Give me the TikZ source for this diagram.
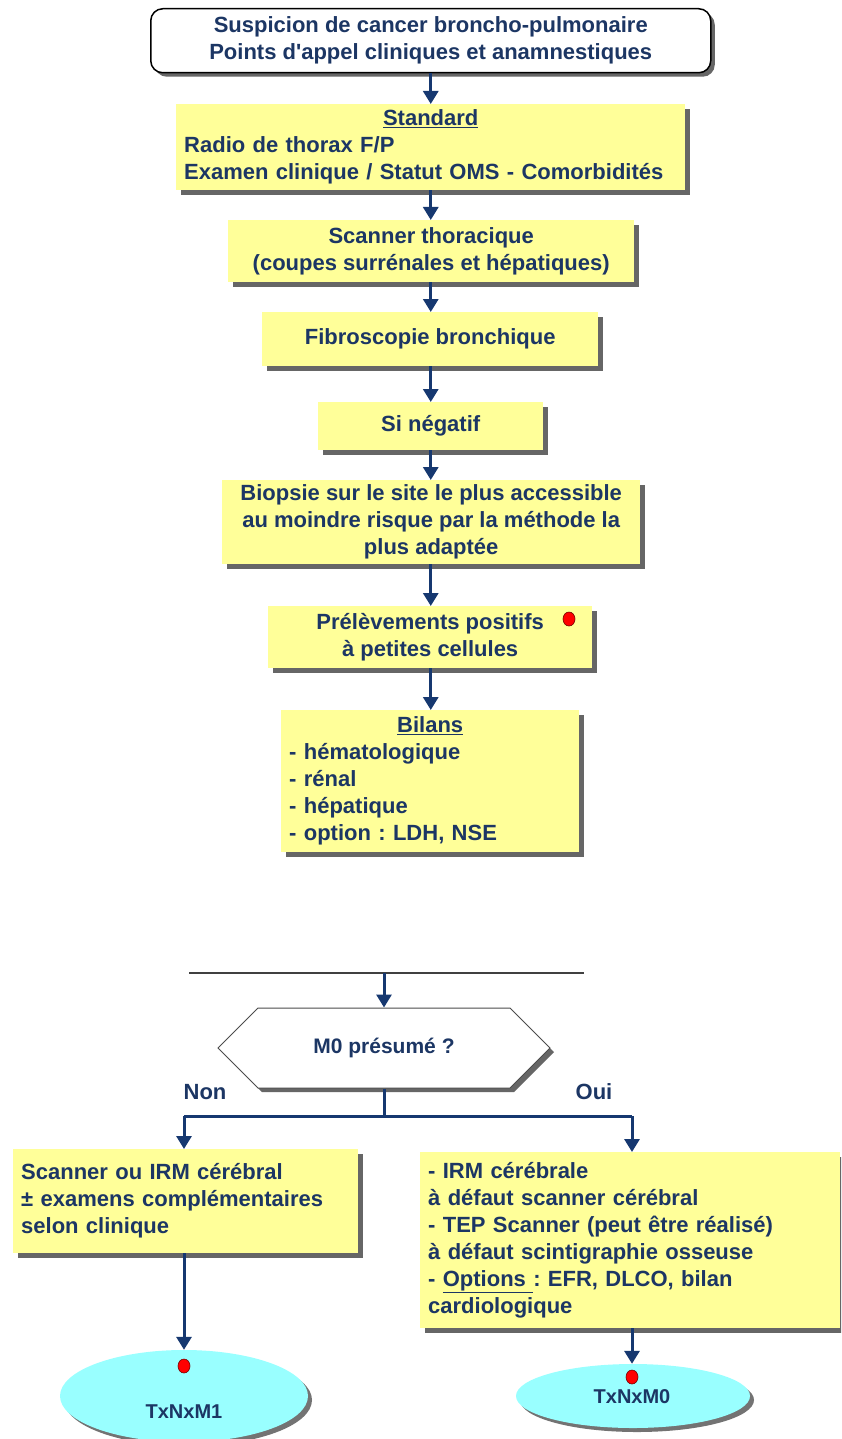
\documentclass[tikz,border=0pt]{standalone}
\usepackage{fontspec}
\setmainfont{Liberation Sans}
\usetikzlibrary{arrows.meta,shadows,shapes.geometric,shapes.symbols}
\definecolor{navy}{RGB}{28,54,100}
\definecolor{arrcol}{RGB}{22,56,112}
\definecolor{yfill}{RGB}{255,255,153}
\definecolor{cfill}{RGB}{153,255,255}
\frenchspacing
\begin{document}
\begin{tikzpicture}[x=1pt,y=-1pt,
  font=\fontsize{22}{27}\selectfont\bfseries\frenchspacing, text=navy,
  shad/.style={drop shadow={shadow xshift=5pt,shadow yshift=-5pt,fill=black!60,opacity=1}},
  yel/.style={fill=yfill, draw=none, shad, inner sep=0pt, anchor=north west},
  topbox/.style={anchor=north west, fill=white, draw=black, line width=1.5pt, rounded corners=12pt,
     align=center, inner sep=0pt, drop shadow={shadow xshift=4pt,shadow yshift=-4pt,fill=black!60,opacity=1}},
  hexa/.style={signal, signal to=east and west, signal pointer angle=90, fill=white, draw=black!70,
     line width=1pt, inner sep=0pt, minimum width=332pt, minimum height=80pt,
     font=\fontsize{21}{26}\selectfont\bfseries,
     drop shadow={shadow xshift=4pt,shadow yshift=-4pt,fill=black!60,opacity=1}},
  ell/.style={ellipse, fill=cfill, draw=none, inner sep=0pt,
     drop shadow={shadow xshift=4pt,shadow yshift=-4pt,fill=black!55,opacity=1}},
  reddot/.style={ellipse, fill=red, draw=red!45!black, line width=0.6pt, minimum width=12pt,
     minimum height=14pt, inner sep=0pt},
  arr/.style={draw=arrcol, line width=3pt, -{Triangle[width=15pt,length=13pt]}},
  conn/.style={draw=arrcol, line width=3pt},
  hline/.style={draw=black!75, line width=1.5pt}
]
\useasboundingbox (0,0) rectangle (841,1439);
\fill[white] (0,0) rectangle (841,1439);
\clip (0,0) rectangle (841,1439);

\node[topbox, minimum width=560pt, minimum height=64pt] (top) at (150,8)
  {Suspicion de cancer broncho-pulmonaire\\Points d\textquotesingle appel cliniques et anamnestiques};

\node[yel, align=left, minimum width=509pt, minimum height=86pt, text width=493pt, inner xsep=8pt] (std) at (176,104)
  {{\centering\underline{Standard}\par}Radio de thorax F/P\\Examen clinique / Statut OMS - Comorbidités};

\node[yel, align=center, minimum width=406pt, minimum height=62pt] (scan) at (228,220)
  {Scanner thoracique\\(coupes surrénales et hépatiques)};

\node[yel, align=center, minimum width=336pt, minimum height=54pt] (fib) at (262,312)
  {Fibroscopie bronchique};

\node[yel, align=center, minimum width=225pt, minimum height=48pt] (neg) at (318,402)
  {Si négatif};

\node[yel, align=center, minimum width=418pt, minimum height=84pt] (bio) at (222,480)
  {Biopsie sur le site le plus accessible\\au moindre risque par la méthode la\\plus adaptée};

\node[yel, align=center, minimum width=324pt, minimum height=62pt] (prel) at (268,606)
  {Prélèvements positifs\\à petites cellules};
\node[reddot] (dot1) at (569,619) {};

\node[yel, align=left, minimum width=298pt, minimum height=142pt, text width=282pt, inner xsep=8pt] (bil) at (281,710)
  {{\centering\underline{Bilans}\par}- hématologique\\- rénal\\- hépatique\\- option : LDH, NSE};

\draw[arr] (top.south) -- (top.south |- std.north);
\draw[arr] (std.south -| top.south) -- (top.south |- scan.north);
\draw[arr] (scan.south -| top.south) -- (top.south |- fib.north);
\draw[arr] (fib.south -| top.south) -- (top.south |- neg.north);
\draw[arr] (neg.south -| top.south) -- (top.south |- bio.north);
\draw[arr] (bio.south -| top.south) -- (top.south |- prel.north);
\draw[arr] (prel.south -| top.south) -- (top.south |- bil.north);

\coordinate (hl) at (189,973);
\coordinate (hr) at (584,973);
\draw[hline] (hl) -- (hr);

\node[hexa] (hex) at (384,1048) {M0 présumé ?};
\draw[arr] (hex.north |- hl) -- (hex.north);

\coordinate (split) at (384,1116);
\draw[conn] (hex.south) -- (split);

\node (non) at (205,1092) {Non};
\node (oui) at (594,1092) {Oui};

\node[yel, align=left, minimum width=345pt, minimum height=104pt, text width=329pt, inner xsep=8pt] (lb) at (13,1149)
  {Scanner ou IRM cérébral\\± examens complémentaires\\selon clinique};

\node[yel, align=left, minimum width=420pt, minimum height=176pt, text width=404pt, inner xsep=8pt] (rb) at (420,1152)
  {- IRM cérébrale\\à défaut scanner cérébral\\- TEP Scanner (peut être réalisé)\\à défaut scintigraphie osseuse\\- \underline{Options }: EFR, DLCO, bilan\\cardiologique};

\coordinate (lsplit) at (184,1116);
\coordinate (rsplit) at (632,1116);
\draw[conn] (lsplit) -- (rsplit);
\draw[arr] (lsplit) -- (lsplit |- lb.north);
\draw[arr] (rsplit) -- (rsplit |- rb.north);

\node[ell, minimum width=248pt, minimum height=92pt] (m1) at (184,1396) {};
\node[reddot] (dot2) at (184,1366) {};
\node[font=\fontsize{20}{24}\selectfont\bfseries] (m1t) at (184,1412) {TxNxM1};

\node[ell, minimum width=234pt, minimum height=64pt] (m0) at (633,1396) {};
\node[reddot] (dot3) at (632,1377) {};
\node[font=\fontsize{20}{24}\selectfont\bfseries] (m0t) at (632,1397) {TxNxM0};

\draw[arr] (lsplit |- lb.south) -- (lsplit |- m1.north);
\draw[arr] (rsplit |- rb.south) -- (rsplit |- m0.north);
\end{tikzpicture}
\end{document}
